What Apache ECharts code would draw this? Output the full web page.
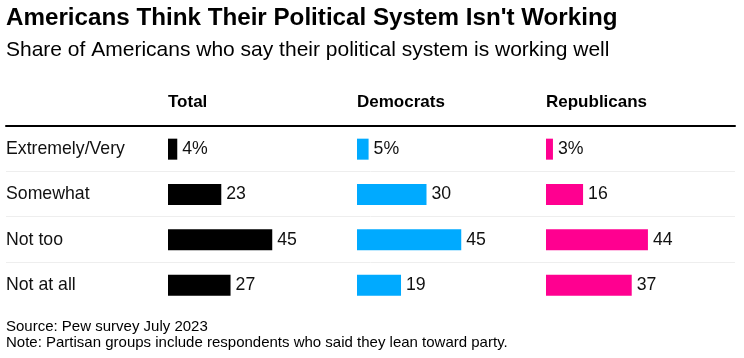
<!DOCTYPE html>
<html>
<head>
<meta charset="utf-8">
<script src="https://cdn.jsdelivr.net/npm/echarts@6/dist/echarts.min.js"></script>
<style>
html,body{margin:0;padding:0;background:#fff;}
#chart{width:744px;height:358px;}
</style>
</head>
<body>
<div id="chart"></div>
<script>
const titleText = "Americans Think Their Political System Isn't Working";
const subtitleText = "Share of Americans who say their political system is working well";
const sourceText = "Source: Pew survey July 2023";
const noteText = "Note: Partisan groups include respondents who said they lean toward party.";
const categories = ["Extremely/Very", "Somewhat", "Not too", "Not at all"];
const groups = ["Total", "Democrats", "Republicans"];
const totalValues = [4, 23, 45, 27];
const democratValues = [5, 30, 45, 19];
const republicanValues = [3, 16, 44, 37];
const groupColors = ["#000000", "#00aaff", "#ff0090"];

const FONT = "'Liberation Sans', Arial, Helvetica, sans-serif";
const seriesValues = [totalValues, democratValues, republicanValues];
const lefts = [168, 357, 546];
const barTop = 126.5, barH = 181.33, barW = 139;

const grids = lefts.map(l => ({left: l, top: barTop, width: barW, height: barH}));
grids.push({left: 6, top: 126, width: 729, height: barH});

const xAxes = lefts.map((l, i) => ({
  type: 'value', gridIndex: i, min: 0, max: 60, show: false
}));
xAxes.push({
  type: 'value', gridIndex: 3, position: 'top', min: 0, max: 1,
  axisLine: {show: true, lineStyle: {color: '#000', width: 2}},
  axisTick: {show: false}, axisLabel: {show: false}, splitLine: {show: false}
});

const yAxes = lefts.map((l, i) => ({
  type: 'category', gridIndex: i, data: categories, inverse: true,
  axisLine: {show: false}, axisTick: {show: false},
  axisLabel: i === 0 ? {
    show: true, align: 'left', margin: 162, color: '#111',
    fontFamily: FONT, fontSize: 17.7
  } : {show: false},
  splitLine: {show: false}
}));
yAxes.push({
  type: 'value', gridIndex: 3, min: 0, max: 4, interval: 1, inverse: true,
  axisLine: {show: false}, axisTick: {show: false}, axisLabel: {show: false},
  splitLine: {show: true, showMinLine: false, showMaxLine: false,
    lineStyle: {color: '#eeeeee', width: 1}}
});

const series = seriesValues.map((vals, i) => ({
  type: 'bar', xAxisIndex: i, yAxisIndex: i, data: vals,
  barWidth: 21, silent: true,
  itemStyle: {color: groupColors[i]},
  label: {
    show: true, position: 'right', distance: 5, color: '#111',
    fontFamily: FONT, fontSize: 17.7,
    formatter: p => p.dataIndex === 0 ? p.value + '%' : String(p.value)
  }
}));

const texts = [
  {text: titleText, x: 6, y: 18.5, font: `bold 24.2px ${FONT}`},
  {text: subtitleText, x: 6, y: 50, font: `21px ${FONT}`},
  {text: sourceText, x: 6, y: 327, font: `15px ${FONT}`},
  {text: noteText, x: 6, y: 343, font: `15px ${FONT}`}
];
groups.forEach((g, i) => texts.push({text: g, x: lefts[i], y: 102.5, font: `bold 17px ${FONT}`}));

const graphic = texts.map(t => ({
  type: 'text', silent: true,
  style: {text: t.text, x: t.x, y: t.y, font: t.font, fill: '#000',
    textAlign: 'left', textVerticalAlign: 'middle', verticalAlign: 'middle'}
}));

const chart = echarts.init(document.getElementById('chart'), null, {renderer: 'canvas'});
chart.setOption({
  animation: false,
  backgroundColor: '#ffffff',
  grid: grids,
  xAxis: xAxes,
  yAxis: yAxes,
  series: series,
  graphic: graphic
});
</script>
</body>
</html>
